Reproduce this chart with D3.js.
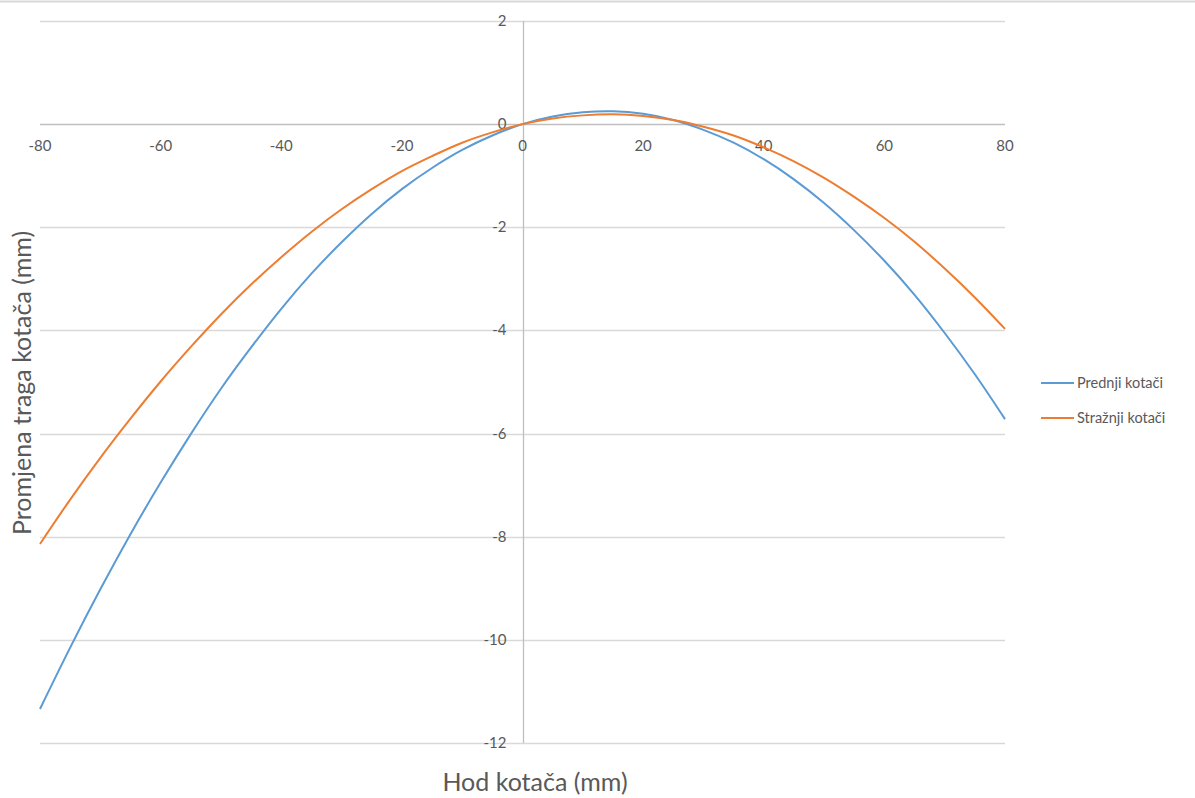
<!DOCTYPE html>
<html>
<head>
<meta charset="utf-8">
<script src="https://cdn.jsdelivr.net/npm/d3@7"></script>
<style>
  html, body { margin: 0; padding: 0; background: #fff; }
  svg { display: block; }
  text { font-family: Lato, "Open Sans", sans-serif; fill: #595959; }
</style>
</head>
<body>
<svg id="chart" width="1195" height="798"></svg>
<script>
// Data
const travel = [-80,-75,-70,-65,-60,-55,-50,-45,-40,-35,-30,-25,-20,-15,-10,-5,0,5,10,15,20,25,30,35,40,45,50,55,60,65,70,75,80];
const frontWheels = [-11.34,-10.15,-9.02,-7.95,-6.95,-6.01,-5.13,-4.33,-3.58,-2.90,-2.29,-1.74,-1.26,-0.85,-0.50,-0.22,0,0.15,0.23,0.25,0.20,0.08,-0.11,-0.36,-0.68,-1.07,-1.53,-2.06,-2.65,-3.31,-4.05,-4.85,-5.72];
const rearWheels = [-8.14,-7.28,-6.47,-5.71,-4.99,-4.32,-3.69,-3.11,-2.58,-2.09,-1.65,-1.26,-0.91,-0.62,-0.36,-0.16,0,0.11,0.17,0.19,0.16,0.08,-0.05,-0.22,-0.45,-0.72,-1.04,-1.41,-1.82,-2.28,-2.80,-3.36,-3.97];
const xTicks = [-80,-60,-40,-20,0,20,40,60,80];
const yTicks = [2,0,-2,-4,-6,-8,-10,-12];
const seriesNames = ["Prednji kotači", "Stražnji kotači"];
const seriesColors = ["#5B9BD5", "#ED7D31"];
const xTitle = "Hod kotača (mm)";
const yTitle = "Promjena traga kotača (mm)";

const svg = d3.select("#chart");
const x = d3.scaleLinear().domain([-80, 80]).range([40, 1005]);
const y = d3.scaleLinear().domain([-12, 2]).range([743, 21]);

// top border
svg.append("line").attr("x1", 0).attr("x2", 1195).attr("y1", 1.5).attr("y2", 1.5)
  .attr("stroke", "#d9d9d9").attr("stroke-width", 2);

// horizontal gridlines
svg.append("g").selectAll("line").data(yTicks).join("line")
  .attr("x1", x(-80)).attr("x2", x(80))
  .attr("y1", d => Math.round(y(d)) + 0.5).attr("y2", d => Math.round(y(d)) + 0.5)
  .attr("stroke", d => d === 0 ? "#bfbfbf" : "#d9d9d9").attr("stroke-width", 1.3);

// vertical axis line at x = 0
svg.append("line")
  .attr("x1", Math.round(x(0)) + 0.5).attr("x2", Math.round(x(0)) + 0.5)
  .attr("y1", y(2)).attr("y2", y(-12))
  .attr("stroke", "#bfbfbf").attr("stroke-width", 1.3);

// x tick labels
svg.append("g").selectAll("text").data(xTicks).join("text")
  .attr("x", d => x(d)).attr("y", y(0) + 27)
  .attr("text-anchor", "middle").attr("font-size", 15)
  .text(d => d);

// y tick labels
svg.append("g").selectAll("text").data(yTicks).join("text")
  .attr("x", x(0) - 16).attr("y", d => y(d) + 5)
  .attr("text-anchor", "end").attr("font-size", 15)
  .text(d => d);

// lines
const line = d3.line().x((d, i) => x(travel[i])).y(d => y(d)).curve(d3.curveCatmullRom);
[frontWheels, rearWheels].forEach((s, k) => {
  svg.append("path").datum(s).attr("d", line)
    .attr("fill", "none").attr("stroke", seriesColors[k]).attr("stroke-width", 2);
});

// axis titles
svg.append("text").attr("x", 535).attr("y", 791)
  .attr("text-anchor", "middle").attr("font-size", 25).text(xTitle);
svg.append("text").attr("transform", "translate(31,383) rotate(-90)")
  .attr("text-anchor", "middle").attr("font-size", 25).text(yTitle);

// legend
const lg = svg.append("g").selectAll("g").data(seriesNames).join("g")
  .attr("transform", (d, i) => `translate(1041,${383 + i * 35})`);
lg.append("line").attr("x1", 0).attr("x2", 33).attr("y1", 0).attr("y2", 0)
  .attr("stroke", (d, i) => seriesColors[i]).attr("stroke-width", 2);
lg.append("text").attr("x", 36).attr("y", 5).attr("font-size", 14.5).text(d => d);
</script>
</body>
</html>
